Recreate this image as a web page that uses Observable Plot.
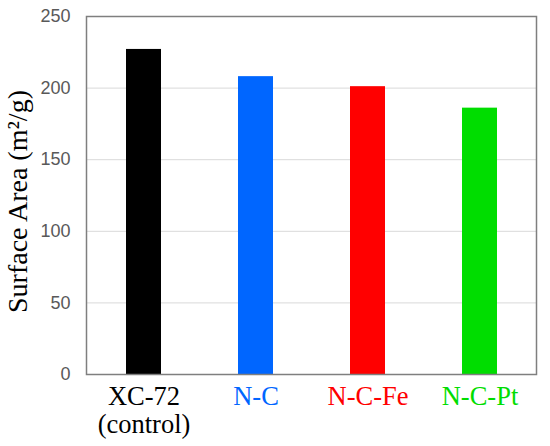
<!DOCTYPE html>
<html>
<head>
<meta charset="utf-8">
<script src="https://cdn.jsdelivr.net/npm/d3@7"></script>
<script src="https://cdn.jsdelivr.net/npm/@observablehq/plot@0.6"></script>
<style>
  html, body { margin: 0; padding: 0; background: #fff; }
  g.serif-text text { font-family: "Liberation Serif", "Times New Roman", serif !important; }
  g.sans-text text { font-family: "Liberation Sans", Arial, sans-serif !important; }
</style>
</head>
<body>
<div id="chart"></div>
<script>
const categories = ["XC-72", "N-C", "N-C-Fe", "N-C-Pt"];
const labels = ["XC-72\n(control)", "N-C", "N-C-Fe", "N-C-Pt"];
const values = [227, 208, 201, 186];
const colors = ["#000000", "#0066FF", "#FF0000", "#00DD00"];
const yTicks = [0, 50, 100, 150, 200, 250];
const gridTicks = [50, 100, 150, 200];
const yTitle = "Surface Area (m²/g)";

const data = categories.map((c, i) => ({cat: c, value: values[i], color: colors[i], label: labels[i]}));

const chart = Plot.plot({
  width: 550,
  height: 446,
  marginTop: 16,
  marginBottom: 72,
  marginLeft: 86,
  marginRight: 14,
  style: {background: "#fff"},
  x: {domain: categories, type: "band", paddingInner: 0.69, paddingOuter: 0.345, axis: null},
  y: {domain: [0, 250], axis: null},
  color: {type: "identity"},
  marks: [
    Plot.gridY(gridTicks, {stroke: "#d9d9d9", strokeOpacity: 1, strokeWidth: 1}),
    Plot.barY(data, {x: "cat", y: "value", fill: "color"}),
    Plot.frame({stroke: "#7f7f7f", strokeWidth: 1.5}),
    Plot.text(yTicks, {
      y: d => d, text: d => String(d),
      frameAnchor: "left", dx: -16, textAnchor: "end",
      fill: "#595959", fontSize: 18, className: "sans-text"
    }),
    Plot.text(data, {
      x: "cat", text: "label", fill: "color",
      frameAnchor: "bottom", lineAnchor: "top", dy: 10.5, lineHeight: 1.07,
      fontSize: 26.5, className: "serif-text"
    }),
    Plot.text([yTitle], {
      frameAnchor: "left", rotate: -90, dx: -68, dy: 6,
      lineAnchor: "middle", textAnchor: "middle",
      fill: "#000", fontSize: 28, className: "serif-text"
    })
  ]
});
document.getElementById("chart").appendChild(chart);
</script>
</body>
</html>
